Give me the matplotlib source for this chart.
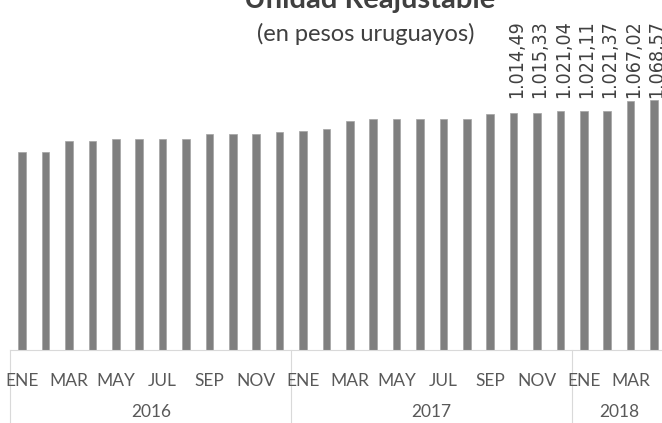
import numpy as np
import matplotlib
matplotlib.use("Agg")
import matplotlib.pyplot as plt
import matplotlib.transforms as mtransforms

# ---- data ----
years = ["2016", "2017", "2018"]
months_per_year = [12, 12, 4]
month_names = ["ENE", "FEB", "MAR", "ABR", "MAY", "JUN", "JUL", "AGO", "SEP", "OCT", "NOV", "DIC"]
values = [846.0, 846.0, 896.0, 896.0, 903.0, 903.0, 903.0, 903.0, 925.0, 925.0, 925.0, 932.0,
          937.0, 945.0, 980.0, 988.0, 988.0, 988.0, 988.0, 988.0, 1009.0, 1014.49, 1015.33, 1021.04,
          1021.11, 1021.37, 1067.02, 1068.57]
labelled_from = 21  # data labels shown from OCT 2017 onward
title = "Unidad Reajustable"
subtitle = "(en pesos uruguayos)"

W, H = 662, 423
fig = plt.figure(figsize=(W / 100, H / 100), dpi=100)
fig.patch.set_facecolor("white")

n = len(values)
step = 23.4
left_px = 10.5
axis_y = 350
px_per_unit = 0.2336
ax = fig.add_axes([left_px / W, (H - axis_y) / H, n * step / W, axis_y / H])
ax.set_xlim(-0.5, n - 0.5)
ax.set_ylim(0, axis_y / px_per_unit)

x = np.arange(n)
ax.bar(x, values, width=0.32, color="#7f7f7f", edgecolor="#a3a3a3", linewidth=0.5, zorder=2)

for s in ["top", "right", "left"]:
    ax.spines[s].set_visible(False)
ax.spines["bottom"].set_color("#d9d9d9")
ax.spines["bottom"].set_linewidth(0.8)
ax.set_yticks([])
ax.set_xticks([])
ax.patch.set_alpha(0)

# data labels
ymax = max(values)
for i in range(labelled_from, n):
    txt = f"{values[i]:,.2f}".replace(",", "X").replace(".", ",").replace("X", ".")
    ax.annotate(txt, xy=(i, ymax), xytext=(2, 2), textcoords="offset points",
                rotation=90, ha="center", va="bottom", fontsize=14,
                family="DejaVu Sans", fontstretch="condensed", color="#404040",
                annotation_clip=False)

# category labels
trans = mtransforms.blended_transform_factory(ax.transData, ax.transAxes)
month_y = -31 / axis_y
year_y = -62 / axis_y
sep_bottom = -73 / axis_y
idx = 0
bounds = [-0.5]
for yr, cnt in zip(years, months_per_year):
    for m in range(cnt):
        if m % 2 == 0:
            ax.text(idx + m, month_y, month_names[m], transform=trans, ha="center", va="center",
                    fontsize=12.5, family="Lato", color="#595959", clip_on=False)
    ax.text(idx + cnt / 2 - 0.5, year_y, yr, transform=trans, ha="center", va="center",
            fontsize=12.5, family="Lato", color="#595959", clip_on=False)
    idx += cnt
    bounds.append(idx - 0.5)
for b in bounds:
    ax.plot([b, b], [0, sep_bottom], transform=trans, color="#d9d9d9", lw=0.8, clip_on=False)

fig.text(370 / W, 1 - 8 / H, title, ha="center", va="baseline", fontsize=21,
         fontweight="bold", family="Lato", color="#404040")
fig.text(366 / W, 1 - 41 / H, subtitle, ha="center", va="baseline", fontsize=17,
         family="Lato", color="#404040")

fig.savefig("out.png", dpi=100, facecolor="white")
